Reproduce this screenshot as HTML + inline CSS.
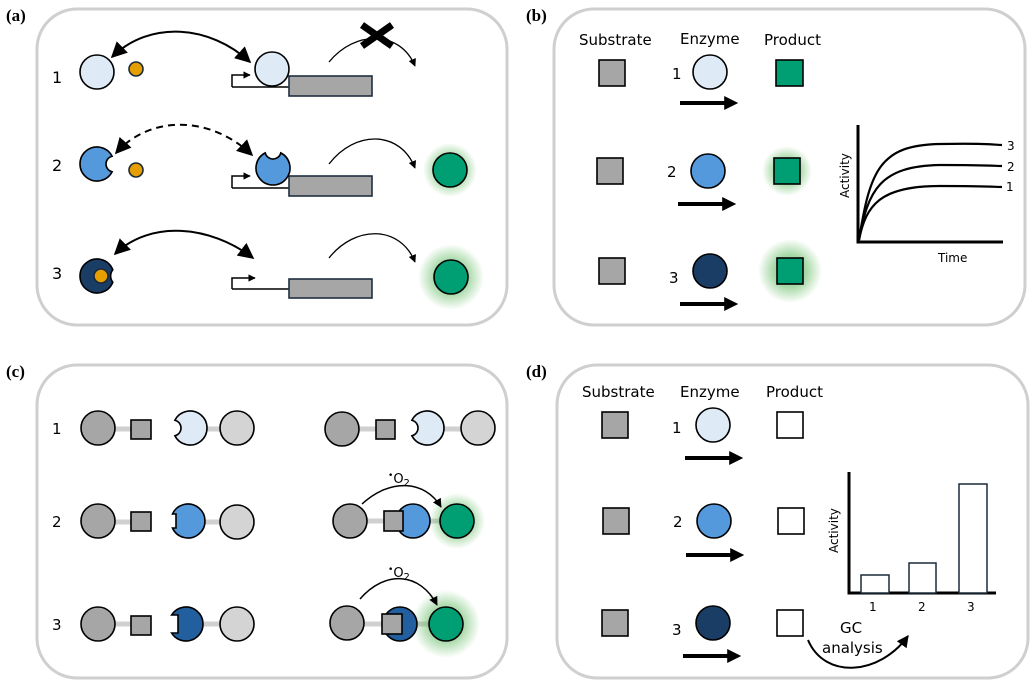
<!DOCTYPE html>
<html><head><meta charset="utf-8"><style>
html,body{margin:0;padding:0;background:#fff}
svg{display:block}
text{font-family:"DejaVu Sans","Liberation Sans",sans-serif;fill:#000}
.lab{font-family:"Liberation Serif",serif;font-weight:bold;font-size:17px}
</style></head><body>
<svg width="1034" height="688" viewBox="0 0 1034 688" xmlns="http://www.w3.org/2000/svg">
<defs>
<marker id="ah" viewBox="0 0 10 10" refX="9" refY="5" markerWidth="5" markerHeight="5" orient="auto-start-reverse"><path d="M0,0L10,5L0,10Z" fill="#000"/></marker>
<marker id="ahb" viewBox="0 0 10 10" refX="9" refY="5" markerWidth="8" markerHeight="8" orient="auto-start-reverse"><path d="M0,0L10,5L0,10Z" fill="#000"/></marker>
<marker id="ahs" viewBox="0 0 10 10" refX="9" refY="5" markerWidth="6" markerHeight="6" orient="auto"><path d="M0,0L10,5L0,10Z" fill="#000"/></marker>
<marker id="ahf" viewBox="0 0 10 10" refX="7" refY="5" markerWidth="3.5" markerHeight="3.5" orient="auto"><path d="M0,0L10,5L0,10Z" fill="#000"/></marker>
<radialGradient id="glow"><stop offset="0.5" stop-color="#5cb85c" stop-opacity="0.55"/><stop offset="1" stop-color="#5cb85c" stop-opacity="0"/></radialGradient>
</defs>
<g fill="none" stroke="#cfcfcf" stroke-width="3">
<rect x="37" y="9" width="470" height="316" rx="40"/>
<rect x="554" y="9" width="471" height="316" rx="40"/>
<rect x="37" y="365" width="470" height="313" rx="40"/>
<rect x="557" y="365" width="471" height="313" rx="40"/>
</g>
<text class="lab" x="6" y="21">(a)</text>
<text class="lab" x="526" y="21">(b)</text>
<text class="lab" x="6" y="377">(c)</text>
<text class="lab" x="526" y="377">(d)</text>

<!-- Panel a -->
<g font-size="16">
<text x="52" y="83">1</text><text x="52" y="171">2</text><text x="52" y="279">3</text>
</g>
<g stroke="#000" stroke-width="1.6">
<circle cx="97" cy="72" r="17" fill="#deebf7"/>
<circle cx="136" cy="69" r="7" fill="#e69f00" stroke="#1a2a3a"/>
<path transform="translate(97,164) " d="M15.12,-7.78 A17,17 0 1 0 15.12,7.78 A8,8 0 0 1 15.12,-7.78Z" fill="#5599dd"/>
<circle cx="136" cy="170" r="7" fill="#e69f00" stroke="#1a2a3a"/>
<path transform="translate(97,276)" d="M15.81,-6.25 A17,17 0 1 0 15.81,6.25 A10,10 0 0 1 15.81,-6.25Z" fill="#1a3d66"/>
<circle cx="101" cy="276" r="7" fill="#e69f00" stroke="#1a2a3a"/>
</g>
<g stroke="#000" stroke-width="1.5" fill="none">
<path d="M232,87V75H250" marker-end="url(#ah)"/><path d="M232,87H290"/>
<path d="M232,188V176H250" marker-end="url(#ah)"/><path d="M232,188H290"/>
<path d="M232,289V278H255" marker-end="url(#ah)"/><path d="M232,289H290"/>
</g>
<g fill="#a6a6a6" stroke="#1f2f3f" stroke-width="1.6">
<rect x="289" y="76" width="83" height="20"/>
<rect x="289" y="176" width="83" height="20"/>
<rect x="289" y="279" width="83" height="19"/>
</g>
<circle cx="272" cy="69" r="17" fill="#deebf7" stroke="#000" stroke-width="1.6"/>
<path transform="translate(273,168) rotate(-90)" d="M15.12,-7.78 A17,17 0 1 0 15.12,7.78 A8,8 0 0 1 15.12,-7.78Z" fill="#5599dd" stroke="#000" stroke-width="1.6"/>
<g stroke="#000" stroke-width="2" fill="none">
<path d="M112,57 C150,20 210,25 250,62" marker-start="url(#ahb)" marker-end="url(#ahb)"/>
<path d="M116,153 C150,115 210,115 252,155" stroke-dasharray="7,5" marker-start="url(#ahb)" marker-end="url(#ahb)"/>
<path d="M115,254 C150,220 210,225 253,258" marker-start="url(#ahb)" marker-end="url(#ahb)"/>
</g>
<g stroke="#000" stroke-width="1.3" fill="none">
<path d="M329,62 C355,30 400,30 415,66" marker-end="url(#ahs)"/>
<path d="M329,164 C355,130 400,130 415,168" marker-end="url(#ahs)"/>
<path d="M329,258 C355,225 400,225 415,262" marker-end="url(#ahs)"/>
</g>
<path d="M362,25L392,46M392,25L362,46" stroke="#000" stroke-width="7"/>
<circle cx="450" cy="170" r="27" fill="url(#glow)"/>
<circle cx="451" cy="277" r="33" fill="url(#glow)"/>
<circle cx="450" cy="170" r="17" fill="#009e73" stroke="#000" stroke-width="1.6"/>
<circle cx="451" cy="277" r="17" fill="#009e73" stroke="#000" stroke-width="1.6"/>

<!-- Panel b -->
<g font-size="15">
<text x="579" y="45">Substrate</text><text x="680" y="44">Enzyme</text><text x="764" y="45">Product</text>
<text x="672" y="79">1</text><text x="667" y="177">2</text><text x="669" y="283">3</text>
</g>
<circle cx="787" cy="171" r="25" fill="url(#glow)"/>
<circle cx="790" cy="271" r="32" fill="url(#glow)"/>
<g stroke="#000" stroke-width="1.6">
<rect x="599" y="60" width="26" height="26" fill="#a6a6a6"/>
<rect x="597" y="158" width="26" height="26" fill="#a6a6a6"/>
<rect x="599" y="258" width="26" height="26" fill="#a6a6a6"/>
<circle cx="710" cy="72" r="17" fill="#deebf7"/>
<circle cx="708" cy="171" r="17" fill="#5599dd"/>
<circle cx="710" cy="271" r="17" fill="#1a3d66"/>
<rect x="776" y="60" width="27" height="26" fill="#009e73"/>
<rect x="774" y="158" width="26" height="26" fill="#009e73"/>
<rect x="777" y="258" width="26" height="26" fill="#009e73"/>
</g>
<g stroke="#000" stroke-width="4">
<path d="M680,103H734" marker-end="url(#ahf)"/>
<path d="M678,204H732" marker-end="url(#ahf)"/>
<path d="M680,304H734" marker-end="url(#ahf)"/>
</g>
<path d="M858,125V242H1003" stroke="#000" stroke-width="3" fill="none"/>
<g stroke="#000" stroke-width="2.2" fill="none">
<path d="M859,240 C870,170 880,145 940,144 C990,143 995,145 1002,145"/>
<path d="M859,240 C868,190 880,166 940,165 C990,165 995,166 1002,166"/>
<path d="M859,240 C866,205 880,186 940,186 C990,186 995,187 1002,187"/>
</g>
<g font-size="12">
<text x="1007" y="150">3</text><text x="1007" y="171">2</text><text x="1006" y="191">1</text>
<text x="938" y="262">Time</text>
<text transform="translate(849,198) rotate(-90)">Activity</text>
</g>

<!-- Panel c -->
<g font-size="15">
<text x="52" y="434">1</text><text x="52" y="527">2</text><text x="52" y="630">3</text>
</g>
<g stroke="#d0d0d0" stroke-width="5">
<path d="M98,429H135M190,429H237"/><path d="M98,522H135M190,522H237"/><path d="M98,624H135M190,624H237"/>
<path d="M342,429H380M427,429H478"/><path d="M350,521H390M413,521H457"/><path d="M347,624H385M400,624H446"/>
</g>
<circle cx="457" cy="521" r="28" fill="url(#glow)"/>
<circle cx="446" cy="624" r="34" fill="url(#glow)"/>
<g stroke="#000" stroke-width="1.6">
<circle cx="98" cy="428" r="17" fill="#a6a6a6"/>
<rect x="131" y="420" width="20" height="19" fill="#a6a6a6"/>
<path transform="translate(190,428) rotate(180)" d="M15.12,-7.78 A17,17 0 1 0 15.12,7.78 A8,8 0 0 1 15.12,-7.78Z" fill="#deebf7"/>
<circle cx="237" cy="428" r="17" fill="#d4d4d4"/>
<circle cx="98" cy="521" r="17" fill="#a6a6a6"/>
<rect x="131" y="512" width="20" height="19" fill="#a6a6a6"/>
<path transform="translate(188,521)" d="M-15.5,-7 A17,17 0 1 1 -15.5,7 L-12,7 L-12,-7Z" fill="#5599dd"/>
<circle cx="237" cy="522" r="17" fill="#d4d4d4"/>
<circle cx="98" cy="624" r="17" fill="#a6a6a6"/>
<rect x="131" y="616" width="20" height="19" fill="#a6a6a6"/>
<path transform="translate(186,624)" d="M-14.4,-9 A17,17 0 1 1 -14.4,9 L-8,9 L-8,-9Z" fill="#225f9e"/>
<circle cx="237" cy="624" r="17" fill="#d4d4d4"/>

<circle cx="342" cy="429" r="17" fill="#a6a6a6"/>
<rect x="376" y="420" width="19" height="19" fill="#a6a6a6"/>
<path transform="translate(427,428) rotate(180)" d="M15.12,-7.78 A17,17 0 1 0 15.12,7.78 A8,8 0 0 1 15.12,-7.78Z" fill="#deebf7"/>
<circle cx="478" cy="428" r="17" fill="#d4d4d4"/>

<circle cx="350" cy="521" r="17" fill="#a6a6a6"/>
<circle cx="413" cy="521" r="17" fill="#5599dd"/>
<rect x="384" y="511" width="19" height="20" fill="#a6a6a6"/>
<circle cx="457" cy="521" r="17" fill="#009e73"/>

<circle cx="347" cy="623" r="17" fill="#a6a6a6"/>
<circle cx="400" cy="624" r="17" fill="#225f9e"/>
<rect x="382" y="614" width="20" height="20" fill="#a6a6a6"/>
<circle cx="446" cy="624" r="17" fill="#009e73"/>
</g>
<g stroke="#000" stroke-width="1.5" fill="none">
<path d="M362,504 C390,478 425,480 441,507" marker-end="url(#ahs)"/>
<path d="M360,599 C385,570 420,572 437,605" marker-end="url(#ahs)"/>
</g>
<g font-size="13">
<text x="388" y="483"><tspan font-size="9" dy="-5">•</tspan><tspan dy="5">O</tspan><tspan font-size="10" dy="3">2</tspan></text>
<text x="388" y="577"><tspan font-size="9" dy="-5">•</tspan><tspan dy="5">O</tspan><tspan font-size="10" dy="3">2</tspan></text>
</g>

<!-- Panel d -->
<g font-size="15">
<text x="582" y="397">Substrate</text><text x="680" y="397">Enzyme</text><text x="766" y="397">Product</text>
<text x="672" y="433">1</text><text x="673" y="527">2</text><text x="672" y="635">3</text>
</g>
<g stroke="#000" stroke-width="1.6">
<rect x="602" y="412" width="26" height="26" fill="#a6a6a6"/>
<rect x="603" y="508" width="26" height="26" fill="#a6a6a6"/>
<rect x="602" y="610" width="26" height="26" fill="#a6a6a6"/>
<circle cx="713" cy="425" r="17" fill="#deebf7"/>
<circle cx="714" cy="521" r="17" fill="#5599dd"/>
<circle cx="713" cy="623" r="17" fill="#1a3d66"/>
<rect x="777" y="412" width="26" height="26" fill="#fff"/>
<rect x="778" y="508" width="26" height="26" fill="#fff"/>
<rect x="777" y="610" width="26" height="26" fill="#fff"/>
</g>
<g stroke="#000" stroke-width="4">
<path d="M685,458H739" marker-end="url(#ahf)"/>
<path d="M686,555H740" marker-end="url(#ahf)"/>
<path d="M683,656H737" marker-end="url(#ahf)"/>
</g>
<path d="M849,472V593H996" stroke="#000" stroke-width="3" fill="none"/>
<g fill="#fff" stroke="#1a2a3a" stroke-width="1.5">
<rect x="861" y="575" width="28" height="18"/>
<rect x="909" y="563" width="27" height="30"/>
<rect x="959" y="484" width="28" height="109"/>
</g>
<g font-size="12">
<text x="869" y="611">1</text><text x="918" y="611">2</text><text x="967" y="611">3</text>
<text transform="translate(838,553) rotate(-90)">Activity</text>
</g>
<g font-size="15">
<text x="840" y="633">GC</text><text x="822" y="653">analysis</text>
</g>
<path d="M808,640 C825,680 880,675 908,636" stroke="#000" stroke-width="2" fill="none" marker-end="url(#ahs)"/>
</svg>
</body></html>
